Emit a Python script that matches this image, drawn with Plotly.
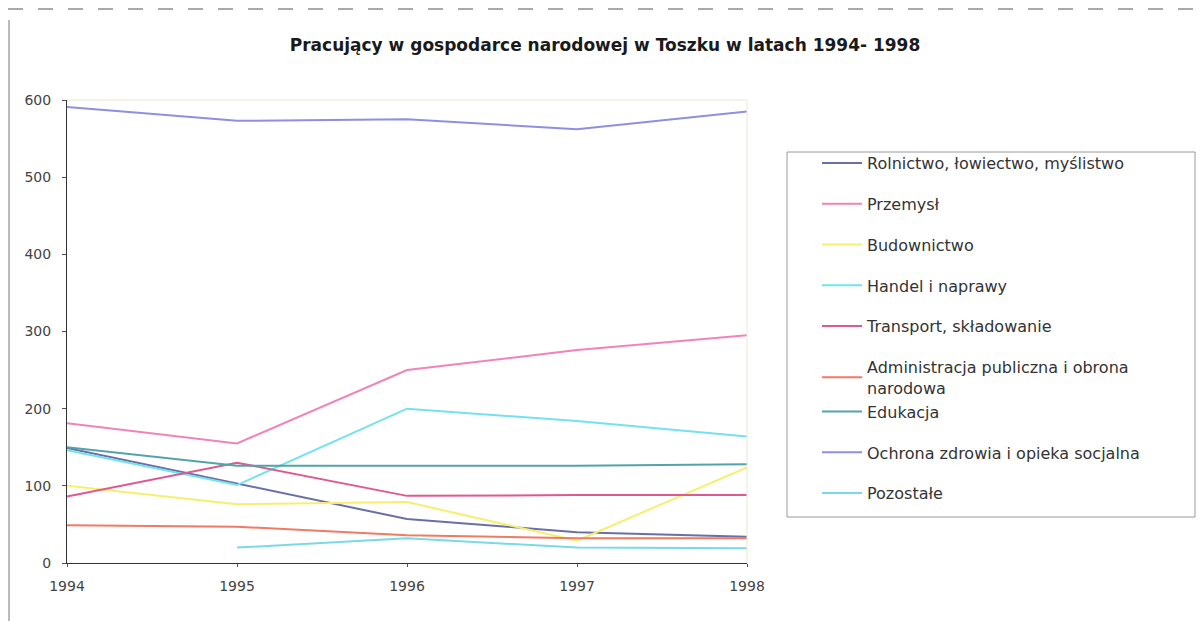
import plotly.graph_objects as go

years = [1994, 1995, 1996, 1997, 1998]

series_names = [
    "Rolnictwo, łowiectwo, myślistwo",
    "Przemysł",
    "Budownictwo",
    "Handel i naprawy",
    "Transport, składowanie",
    "Administracja publiczna i obrona<br>narodowa",
    "Edukacja",
    "Ochrona zdrowia i opieka socjalna",
    "Pozostałe",
]

rolnictwo = [149, 103, 57, 40, 34]
przemysl = [181, 155, 250, 276, 295]
budownictwo = [100, 76, 79, 29, 124]
handel = [146, 101, 200, 184, 164]
transport = [86, 130, 87, 88, 88]
administracja = [49, 47, 36, 32, 32]
edukacja = [150, 126, 126, 126, 128]
ochrona = [591, 573, 575, 562, 585]
pozostale = [None, 20, 32, 20, 19]

series_values = [rolnictwo, przemysl, budownictwo, handel, transport,
                 administracja, edukacja, ochrona, pozostale]

colors = ["#6a6fa6", "#f283ba", "#f6ef6e", "#72e2ee", "#e0588f",
          "#f07a62", "#52a4a8", "#8e8fe2", "#7ad9e6"]

# legend groups (Administracja and Edukacja share one so they sit close)
groups = ["g0", "g1", "g2", "g3", "g4", "g5", "g5", "g7", "g8"]

y_ticks = [0, 100, 200, 300, 400, 500, 600]

# page has an 8px body margin: figure origin sits at (8, 8) in the window
OFF = 8
W, H = 1196, 613
L, R, T, B = 67 - OFF, 457, 100 - OFF, 58

fig = go.Figure()
for name, vals, col, grp in zip(series_names, series_values, colors, groups):
    fig.add_trace(go.Scatter(
        x=years, y=vals, name=name, mode="lines",
        line=dict(color=col, width=2),
        legendgroup=grp,
        connectgaps=False,
    ))

pw = W - L - R
ph = H - T - B


def px_x(px):
    return (px - OFF - L) / pw


def px_y(py):
    return (H - B - (py - OFF)) / ph


fig.update_layout(
    width=W, height=H,
    margin=dict(l=L, r=R, t=T, b=B),
    paper_bgcolor="white", plot_bgcolor="white",
    title=dict(
        text="Pracujący w gospodarce narodowej w Toszku w latach 1994- 1998",
        x=(605 - OFF) / W, xanchor="center", y=1 - (45 - OFF) / H, yanchor="middle",
        font=dict(family="DejaVu Sans", size=17, color="#1a1a1a", weight="bold"),
    ),
    showlegend=True,
    legend=dict(
        x=px_x(817), y=px_y(146), xanchor="left", yanchor="top",
        font=dict(family="DejaVu Sans", size=16, color="#333333"),
        tracegroupgap=17,
        bgcolor="rgba(0,0,0,0)",
        borderwidth=0,
        itemwidth=40,
    ),
    xaxis=dict(
        range=[1994, 1998], tickvals=years, ticktext=[str(y) for y in years],
        showgrid=False, zeroline=False,
        showline=True, linecolor="#333333", linewidth=1,
        ticks="outside", ticklen=3, tickcolor="#555555",
        tickfont=dict(family="DejaVu Sans", size=14, color="#444444"),
        ticklabelstandoff=7,
    ),
    yaxis=dict(
        range=[0, 600], tickvals=y_ticks,
        showgrid=False, zeroline=False,
        showline=True, linecolor="#333333", linewidth=1,
        ticks="outside", ticklen=4, tickcolor="#555555",
        tickfont=dict(family="DejaVu Sans", size=14, color="#444444"),
        ticklabelstandoff=8,
    ),
    shapes=[
        # faint plot-area border top and right
        dict(type="line", xref="paper", yref="paper", x0=0, x1=1, y0=1, y1=1,
             line=dict(color="#ece8d2", width=1)),
        dict(type="line", xref="paper", yref="paper", x0=1, x1=1, y0=0, y1=1,
             line=dict(color="#ece8d2", width=1)),
        # legend frame
        dict(type="rect", xref="paper", yref="paper",
             x0=px_x(787), x1=px_x(1195), y0=px_y(517), y1=px_y(152),
             line=dict(color="#9a9a9a", width=1), fillcolor="rgba(0,0,0,0)"),
        # outer chart frame (top dashed, left)
        dict(type="line", xref="paper", yref="paper",
             x0=px_x(OFF), x1=px_x(OFF + W), y0=px_y(9), y1=px_y(9),
             line=dict(color="#555555", width=1, dash="longdash")),
        dict(type="line", xref="paper", yref="paper",
             x0=px_x(9), x1=px_x(9), y0=px_y(OFF + H), y1=px_y(20),
             line=dict(color="#777777", width=1)),
    ],
)

fig.write_html("out.html")
